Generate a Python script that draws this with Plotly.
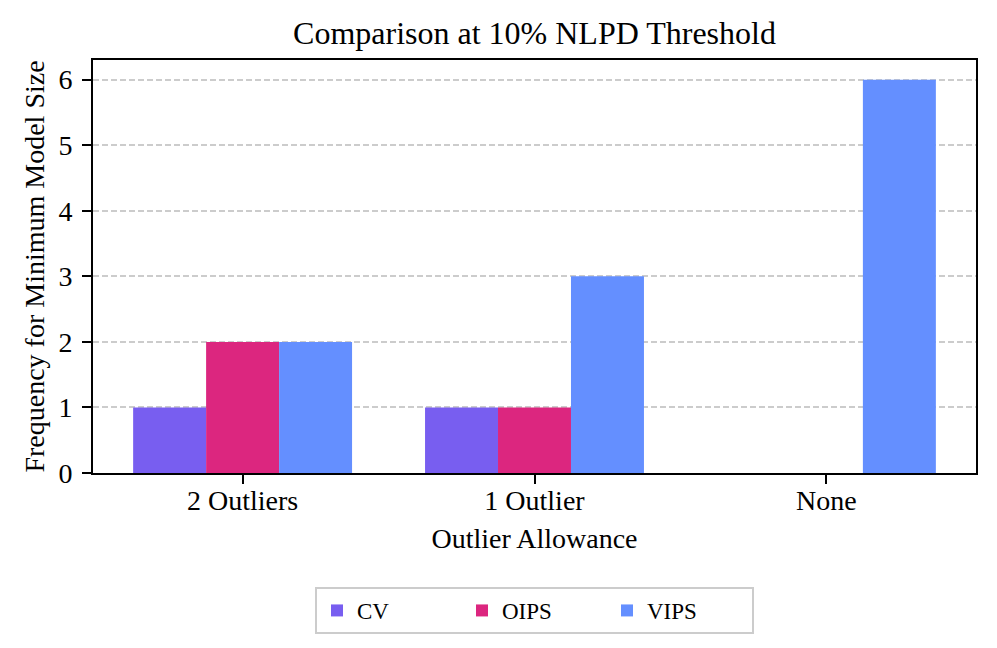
import plotly.graph_objects as go

categories = ["2 Outliers", "1 Outlier", "None"]
cv = [1, 1, 0]
oips = [2, 1, 0]
vips = [2, 3, 6]
series_names = ["CV", "OIPS", "VIPS"]
colors = ["#785EF0", "#DC267F", "#648FFF"]

fig = go.Figure()
for name, vals, col in zip(series_names, [cv, oips, vips], colors):
    fig.add_trace(go.Bar(x=categories, y=vals, name=name, marker=dict(color=col, line=dict(width=0))))

font = "Liberation Serif, Times New Roman, serif"
W, H = 989, 640
fig.update_layout(
    width=W, height=H,
    margin=dict(l=85, r=21, t=52, b=175),
    paper_bgcolor="white", plot_bgcolor="white",
    barmode="group", bargap=0.25, bargroupgap=0,
    font=dict(family=font, size=28, color="black"),
    title=dict(text="Comparison at 10% NLPD Threshold", x=0.5, xref="paper", xanchor="center",
               y=1 - 25 / H, yref="container", yanchor="middle",
               font=dict(family=font, size=32)),
    legend=dict(orientation="h", x=0.5, xanchor="center", y=-0.276, yanchor="top",
                bordercolor="#cccccc", borderwidth=2, font=dict(size=23),
                entrywidth=100, tracegroupgap=0),
    showlegend=True,
)
fig.update_xaxes(range=[-0.5125, 2.5125], showline=True, linecolor="black", linewidth=2, mirror=True,
                 ticks="outside", ticklen=9, tickwidth=2, tickcolor="black", showgrid=False,
                 tickfont=dict(size=28), ticklabelstandoff=-8,
                 title=dict(text="Outlier Allowance", standoff=14, font=dict(size=28)))
fig.update_yaxes(range=[0, 6.3], dtick=1, showline=True, linecolor="black", linewidth=2, mirror=True,
                 ticks="outside", ticklen=9, tickwidth=2, tickcolor="black", showgrid=True, gridcolor="#cccccc",
                 griddash="6px,3px", gridwidth=1.6, zeroline=False, tickfont=dict(size=28),
                 ticklabelstandoff=4,
                 title=dict(text="Frequency for Minimum Model Size", standoff=6, font=dict(size=28)))
fig.write_html("out.html")
